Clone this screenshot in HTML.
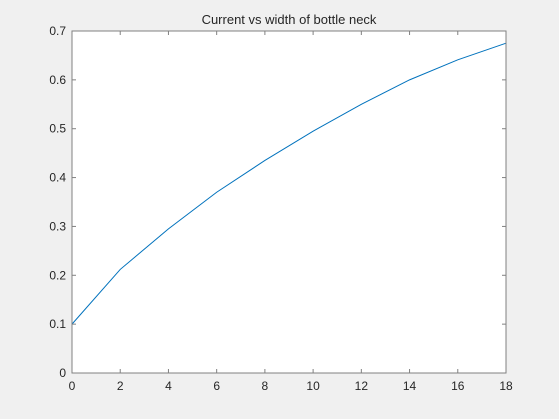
<!DOCTYPE html>
<html><head><meta charset="utf-8"><style>
body{margin:0;background:#f0f0f0;}
svg{display:block;font-family:"Liberation Sans",sans-serif;}
</style></head><body>
<svg id="chart" width="559" height="419">
<rect x="0" y="0" width="559" height="419" fill="#f0f0f0"/>
<rect x="72" y="31" width="434" height="342" fill="#fff"/>
<text x="289" y="24" text-anchor="middle" font-size="13" fill="#262626">Current vs width of bottle neck</text>
<g id="axes"></g>
<polyline id="line" fill="none" stroke="#0072bd" stroke-width="1"/>
<rect x="72" y="31" width="434" height="342" fill="none" stroke="#808080" stroke-width="1"/>
</svg>
<script>
const xValues=[0,2,4,6,8,10,12,14,16,18];
const yValues=[0.1,0.212,0.295,0.37,0.435,0.495,0.55,0.6,0.641,0.675];
const xTicks=[0,2,4,6,8,10,12,14,16,18];
const yTicks=[0,0.1,0.2,0.3,0.4,0.5,0.6,0.7];
const L=72,R=506,T=31,B=373;
const sx=v=>L+(v-0)/(18-0)*(R-L);
const sy=v=>B-(v-0)/(0.7-0)*(B-T);
const NS="http://www.w3.org/2000/svg";
const g=document.getElementById('axes');
function mk(tag,attrs){const e=document.createElementNS(NS,tag);for(const k in attrs)e.setAttribute(k,attrs[k]);return e;}
xTicks.forEach(t=>{
 const x=sx(t);
 const a=mk('line',{x1:x,x2:x,y1:B,y2:B-4,stroke:'#808080'});
 
 
 g.appendChild(a);
 const b=mk('line',{x1:x,x2:x,y1:T,y2:T+4,stroke:'#808080'});
 
 
 g.appendChild(b);
 const tx=mk('text',{x:x,y:B+17,'text-anchor':'middle','font-size':'12',fill:'#262626'});
 tx.textContent=String(t);
 
 
 g.appendChild(tx);
});
yTicks.forEach(t=>{
 const y=sy(t);
 const a=mk('line',{x1:L,x2:L+4,y1:y,y2:y,stroke:'#808080'});
 
 
 g.appendChild(a);
 const b=mk('line',{x1:R,x2:R-4,y1:y,y2:y,stroke:'#808080'});
 
 
 g.appendChild(b);
 const tx=mk('text',{x:L-6,y:y+4,'text-anchor':'end','font-size':'12',fill:'#262626'});
 tx.textContent=String(t);
 
 
 g.appendChild(tx);
});
document.getElementById('line').setAttribute('points',xValues.map((x,i)=>sx(x)+','+sy(yValues[i])).join(' '));
</script>
</body></html>
